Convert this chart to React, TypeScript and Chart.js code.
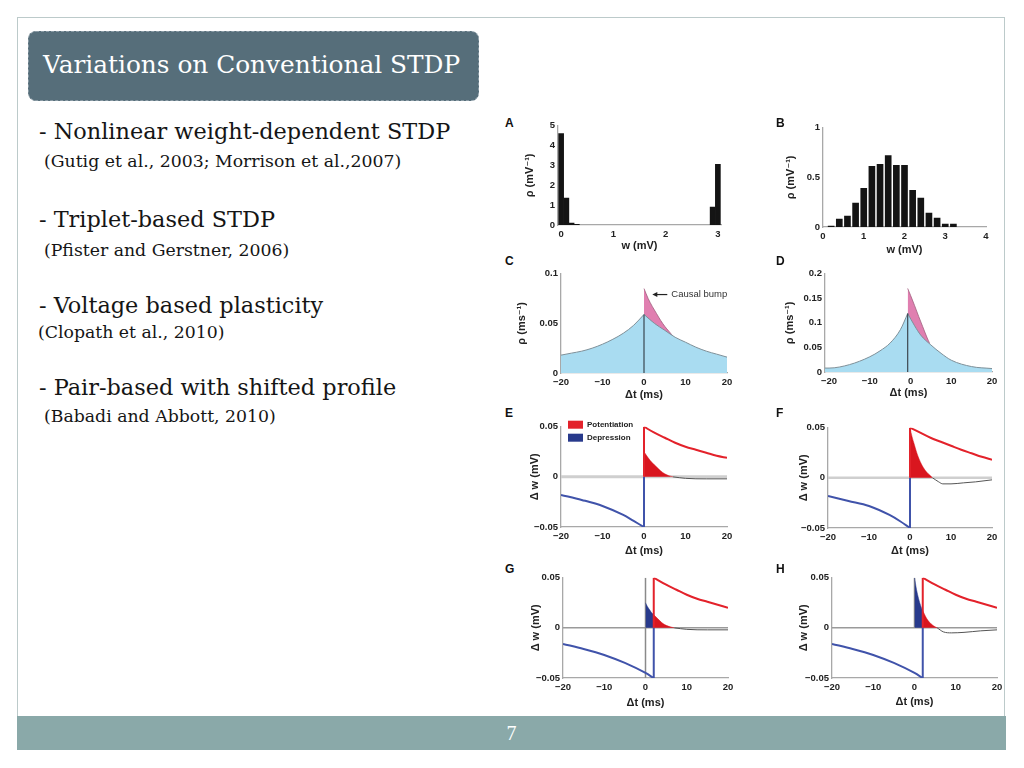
import React, { useEffect, useRef } from "react";
import { Chart, registerables } from "chart.js";
Chart.register(...registerables);

// ---------------- data ----------------
// A: bimodal weight distribution
const A_W = [0, 0.1, 0.2, 0.3, 2.9, 3.0];
const A_RHO = [4.6, 1.35, 0.1, 0.03, 0.9, 3.05];
const A_XTICKS = [0, 1, 2, 3];
const A_YTICKS = [0, 1, 2, 3, 4, 5];

// B: unimodal weight distribution
const B_W = [0.2, 0.4, 0.6, 0.8, 1.0, 1.2, 1.4, 1.6, 1.8, 2.0, 2.2, 2.4, 2.6, 2.8, 3.0, 3.2];
const B_RHO = [0.01, 0.08, 0.11, 0.24, 0.39, 0.61, 0.63, 0.72, 0.62, 0.62, 0.37, 0.29, 0.14, 0.09, 0.03, 0.03];
const B_XTICKS = [0, 1, 2, 3, 4];
const B_YTICKS = [0, 0.5, 1];

const DT_TICKS = [-20, -10, 0, 10, 20];
const C_YTICKS = [0, 0.05, 0.1];
const D_YTICKS = [0, 0.05, 0.1, 0.15, 0.2];
const DW_YTICKS = [-0.05, 0, 0.05];

// C: spike-pair density with causal bump
const C_T_PRE = [-20, -17.5, -15, -12.5, -10, -7.5, -5, -2.5, 0];
const C_RHO_PRE = [0.018, 0.02, 0.022, 0.025, 0.029, 0.034, 0.04, 0.048, 0.059];
const C_T_POST = [0, 2.5, 5, 7.5, 10, 12.5, 15, 17.5, 20];
const C_RHO_POST = [0.059, 0.05, 0.043, 0.036, 0.031, 0.026, 0.022, 0.019, 0.016];
const C_BUMP_T = [0, 1, 2, 3, 4, 5, 6, 7];
const C_BUMP_RHO = [0.085, 0.075, 0.067, 0.06, 0.053, 0.047, 0.042, 0.037];
const C_PEAK_T = [0, 0];
const C_PEAK_RHO = [0, 0.059];
const C_NOTE = "Causal bump";
const C_NOTE_AT = { t: 2, rho: 0.079 };

// D
const D_T_PRE = [-21, -20, -15, -10, -7.5, -5, -2.5, -0.7];
const D_RHO_PRE = [0.008, 0.008, 0.015, 0.031, 0.043, 0.059, 0.086, 0.119];
const D_T_POST = [-0.7, 1, 2.5, 5, 7.5, 10, 15, 20];
const D_RHO_POST = [0.119, 0.094, 0.075, 0.055, 0.038, 0.024, 0.011, 0.007];
const D_BUMP_T = [-0.7, 0, 1, 2, 3, 4, 4.7];
const D_BUMP_RHO = [0.17, 0.156, 0.135, 0.113, 0.092, 0.071, 0.058];
const D_PEAK_T = [-0.7, -0.7];
const D_PEAK_RHO = [0, 0.119];

// E
const E_POT_T = [0, 0, 2.5, 5, 7.5, 10, 12.5, 15, 17.5, 20];
const E_POT_W = [0, 0.05, 0.044, 0.039, 0.034, 0.03, 0.027, 0.024, 0.021, 0.019];
const E_DEP_T = [-20, -15, -10, -5, -2.5, 0, 0];
const E_DEP_W = [-0.018, -0.023, -0.029, -0.038, -0.044, -0.05, 0];
const E_NET_T = [0, 1, 2, 3, 4, 5, 6, 7];
const E_NET_W = [0.025, 0.019, 0.014, 0.01, 0.006, 0.003, 0.0012, 0];
const E_TAIL_T = [7, 10, 15, 20];
const E_TAIL_W = [0, -0.0015, -0.002, -0.002];
const LEGEND_LABELS = ["Potentiation", "Depression"];

// F
const F_POT_T = [0, 0, 2.5, 5, 7.5, 10, 12.5, 15, 17.5, 20];
const F_POT_W = [0, 0.05, 0.045, 0.04, 0.036, 0.032, 0.028, 0.0245, 0.021, 0.018];
const F_DEP_T = [-20, -15, -10, -5, -2.5, 0, 0];
const F_DEP_W = [-0.018, -0.023, -0.028, -0.037, -0.043, -0.05, 0];
const F_NET_T = [0, 0.5, 1, 1.5, 2, 3, 4, 5, 5.5];
const F_NET_W = [0.05, 0.041, 0.034, 0.027, 0.021, 0.012, 0.006, 0.002, 0];
const F_TAIL_T = [5.5, 7, 8, 10, 13, 16, 20];
const F_TAIL_W = [0, -0.004, -0.006, -0.006, -0.005, -0.004, -0.002];

// G
const G_POT_T = [2, 2, 5, 7.5, 10, 12.5, 15, 17.5, 20];
const G_POT_W = [0, 0.05, 0.043, 0.038, 0.033, 0.029, 0.026, 0.023, 0.02];
const G_DEP_T = [-20, -15, -10, -5, 0, 2, 2];
const G_DEP_W = [-0.016, -0.021, -0.027, -0.035, -0.045, -0.05, 0];
const G_LTD_T = [0, 0.5, 1, 1.5, 2];
const G_LTD_W = [0.025, 0.021, 0.018, 0.015, 0.013];
const G_NET_T = [2, 3, 4, 5, 6, 7];
const G_NET_W = [0.013, 0.009, 0.005, 0.0025, 0.001, 0];
const G_TAIL_T = [7, 10, 15, 20];
const G_TAIL_W = [0, -0.0015, -0.002, -0.002];
const G_ZERO_T = [0, 0];
const G_ZERO_W = [-0.05, 0.05];

// H
const H_POT_T = [2, 2, 5, 7.5, 10, 12.5, 15, 17.5, 20];
const H_POT_W = [0, 0.05, 0.043, 0.038, 0.033, 0.029, 0.026, 0.023, 0.02];
const H_DEP_T = [-20, -15, -10, -5, 0, 2, 2];
const H_DEP_W = [-0.016, -0.021, -0.027, -0.035, -0.045, -0.05, 0];
const H_LTD_T = [0, 0.5, 1, 1.5, 2];
const H_LTD_W = [0.05, 0.038, 0.029, 0.022, 0.017];
const H_NET_T = [2, 3, 4, 5, 5.5];
const H_NET_W = [0.017, 0.009, 0.004, 0.001, 0];
const H_TAIL_T = [5.5, 7, 9, 12, 16, 20];
const H_TAIL_W = [0, -0.004, -0.005, -0.0045, -0.003, -0.002];
const H_ZERO_T = [0, 0];
const H_ZERO_W = [0, 0.05];

const BASE_T = [-20, 20];
const BASE_W = [0, 0];

// ---------------- styles ----------------
const SANS = "'Liberation Sans', Arial, 'DejaVu Sans', sans-serif";
const SERIF = "'DejaVu Serif', Georgia, serif";
const AXIS = "#a8a8a8";
const INK = "#222";
const RED = "#e3222b";
const RED_FILL = "#d9161f";
const BLUE_LINE = "#4053aa";
const BLUE_FILL = "#283a8c";
const SKY = "#a9dcf1";
const PINK = "#e07fb0";

type Pt = { x: number; y: number };
const zip = (xs: number[], ys: number[]): Pt[] => xs.map((x, i) => ({ x, y: ys[i] }));

function fmt(v: number): string {
  const s = String(+Number(v).toFixed(3));
  return v < 0 ? "\u2212" + s.replace("-", "") : s;
}

const line = (xs: number[], ys: number[], color: string, width: number, extra: any = {}) => ({
  data: zip(xs, ys),
  borderColor: color,
  borderWidth: width,
  fill: false,
  pointRadius: 0,
  tension: 0,
  ...extra,
});
const curve = (xs: number[], ys: number[], color: string, width: number, extra: any = {}) =>
  line(xs, ys, color, width, { cubicInterpolationMode: "monotone", ...extra });
const area = (xs: number[], ys: number[], fillColor: string, edge: string, width: number) =>
  curve(xs, ys, edge, width, { fill: "origin", backgroundColor: fillColor });

// a trace with a vertical jump at its start: jump segment + smooth decay
const jumpStart = (xs: number[], ys: number[], color: string, width: number) => [
  line(xs.slice(0, 2), ys.slice(0, 2), color, width),
  curve(xs.slice(1), ys.slice(1), color, width),
];
// a trace with a vertical jump at its end: smooth run + jump segment
const jumpEnd = (xs: number[], ys: number[], color: string, width: number) => [
  line(xs.slice(-2), ys.slice(-2), color, width),
  curve(xs.slice(0, -1), ys.slice(0, -1), color, width),
];

const causalBumpPlugin = {
  id: "causalBump",
  afterDatasetsDraw(chart: any) {
    const { ctx, scales } = chart;
    const x0 = scales.x.getPixelForValue(C_NOTE_AT.t);
    const y0 = scales.y.getPixelForValue(C_NOTE_AT.rho);
    ctx.save();
    ctx.strokeStyle = "#222";
    ctx.fillStyle = "#222";
    ctx.lineWidth = 1.2;
    ctx.beginPath();
    ctx.moveTo(x0 + 4, y0);
    ctx.lineTo(x0 + 15, y0);
    ctx.stroke();
    ctx.beginPath();
    ctx.moveTo(x0, y0);
    ctx.lineTo(x0 + 5, y0 - 2.5);
    ctx.lineTo(x0 + 5, y0 + 2.5);
    ctx.closePath();
    ctx.fill();
    ctx.font = `9.5px ${SANS}`;
    ctx.fillStyle = "#333";
    ctx.textBaseline = "middle";
    ctx.fillText(C_NOTE, x0 + 19, y0);
    ctx.restore();
  },
};

const legendPlugin = {
  id: "stdpLegend",
  afterDatasetsDraw(chart: any) {
    const { ctx, chartArea } = chart;
    const colors = [RED, BLUE_FILL];
    ctx.save();
    ctx.font = `bold 8px ${SANS}`;
    ctx.textBaseline = "middle";
    LEGEND_LABELS.forEach((label, i) => {
      const x = chartArea.left + 7;
      const y = chartArea.top - 6 + i * 13;
      ctx.fillStyle = colors[i];
      ctx.fillRect(x, y, 15, 8);
      ctx.fillStyle = INK;
      ctx.fillText(label, x + 19, y + 4);
    });
    ctx.restore();
  },
};

interface PanelSpec {
  letter: string;
  letterAt: [number, number];
  rect: { L: number; R: number; T: number; B: number };
  yW: number;
  xH: number;
  type: "bar" | "line";
  xMin: number;
  xMax: number;
  yMin: number;
  yMax: number;
  xTicks: number[];
  yTicks: number[];
  xTitle: string;
  yTitle: string;
  datasets: any[];
  plugins?: any[];
}

const DT = "\u0394t (ms)";
const DWT = "\u0394 w (mV)";

const PANELS: PanelSpec[] = [
  {
    letter: "A", letterAt: [505, 117], rect: { L: 558, R: 721, T: 125, B: 225 }, yW: 35, xH: 28,
    type: "bar", xMin: -0.06, xMax: 3.06, yMin: 0, yMax: 5, xTicks: A_XTICKS, yTicks: A_YTICKS,
    xTitle: "w (mV)", yTitle: "\u03c1 (mV\u207b\u00b9)",
    datasets: [{ data: zip(A_W, A_RHO), backgroundColor: "#141414", barThickness: 5 }],
  },
  {
    letter: "B", letterAt: [776, 117], rect: { L: 823, R: 986, T: 127, B: 227 }, yW: 39, xH: 30,
    type: "bar", xMin: 0, xMax: 4, yMin: 0, yMax: 1, xTicks: B_XTICKS, yTicks: B_YTICKS,
    xTitle: "w (mV)", yTitle: "\u03c1 (mV\u207b\u00b9)",
    datasets: [{ data: zip(B_W, B_RHO), backgroundColor: "#141414", barThickness: 6 }],
  },
  {
    letter: "C", letterAt: [505, 255], rect: { L: 561, R: 727, T: 273, B: 373 }, yW: 46, xH: 29,
    type: "line", xMin: -20, xMax: 20, yMin: 0, yMax: 0.1, xTicks: DT_TICKS, yTicks: C_YTICKS,
    xTitle: DT, yTitle: "\u03c1 (ms\u207b\u00b9)",
    datasets: [
      line(C_PEAK_T, C_PEAK_RHO, "#3a4650", 1.2),
      area(C_T_PRE, C_RHO_PRE, SKY, "#7f9099", 1),
      area(C_T_POST, C_RHO_POST, SKY, "#7f9099", 1),
      area(C_BUMP_T, C_BUMP_RHO, PINK, "#a0607e", 0.8),
    ],
    plugins: [causalBumpPlugin],
  },
  {
    letter: "D", letterAt: [776, 255], rect: { L: 825, R: 992, T: 273, B: 372 }, yW: 42, xH: 28,
    type: "line", xMin: -21, xMax: 20, yMin: 0, yMax: 0.2, xTicks: DT_TICKS, yTicks: D_YTICKS,
    xTitle: DT, yTitle: "\u03c1 (ms\u207b\u00b9)",
    datasets: [
      line(D_PEAK_T, D_PEAK_RHO, "#3a4650", 1.2),
      area(D_T_PRE, D_RHO_PRE, SKY, "#7f9099", 1),
      area(D_T_POST, D_RHO_POST, SKY, "#7f9099", 1),
      area(D_BUMP_T, D_BUMP_RHO, PINK, "#a0607e", 0.8),
    ],
  },
  {
    letter: "E", letterAt: [505, 407], rect: { L: 561, R: 727, T: 426, B: 527 }, yW: 33, xH: 31,
    type: "line", xMin: -20, xMax: 20, yMin: -0.05, yMax: 0.05, xTicks: DT_TICKS, yTicks: DW_YTICKS,
    xTitle: DT, yTitle: DWT,
    datasets: [
      ...jumpStart(E_POT_T, E_POT_W, RED, 2),
      ...jumpEnd(E_DEP_T, E_DEP_W, BLUE_LINE, 2),
      curve(E_TAIL_T, E_TAIL_W, "#555", 1),
      area(E_NET_T, E_NET_W, RED_FILL, RED_FILL, 0.5),
      line(BASE_T, BASE_W, "#cfcfcf", 3),
    ],
    plugins: [legendPlugin],
  },
  {
    letter: "F", letterAt: [776, 407], rect: { L: 828, R: 992, T: 427, B: 528 }, yW: 31, xH: 30,
    type: "line", xMin: -20, xMax: 20, yMin: -0.05, yMax: 0.05, xTicks: DT_TICKS, yTicks: DW_YTICKS,
    xTitle: DT, yTitle: DWT,
    datasets: [
      ...jumpStart(F_POT_T, F_POT_W, RED, 2),
      ...jumpEnd(F_DEP_T, F_DEP_W, BLUE_LINE, 2),
      curve(F_TAIL_T, F_TAIL_W, "#555", 1),
      area(F_NET_T, F_NET_W, RED_FILL, RED_FILL, 0.5),
      line(BASE_T, BASE_W, "#cfcfcf", 2.5),
    ],
  },
  {
    letter: "G", letterAt: [505, 563], rect: { L: 563, R: 728, T: 577, B: 678 }, yW: 34, xH: 32,
    type: "line", xMin: -20, xMax: 20, yMin: -0.05, yMax: 0.05, xTicks: DT_TICKS, yTicks: DW_YTICKS,
    xTitle: DT, yTitle: DWT,
    datasets: [
      ...jumpStart(G_POT_T, G_POT_W, RED, 2),
      ...jumpEnd(G_DEP_T, G_DEP_W, BLUE_LINE, 2),
      curve(G_TAIL_T, G_TAIL_W, "#555", 1),
      area(G_NET_T, G_NET_W, RED_FILL, RED_FILL, 0.5),
      area(G_LTD_T, G_LTD_W, BLUE_FILL, BLUE_FILL, 0.5),
      line(G_ZERO_T, G_ZERO_W, "#8a8a8a", 1.5),
      line(BASE_T, BASE_W, "#9a9a9a", 1.5),
    ],
  },
  {
    letter: "H", letterAt: [776, 563], rect: { L: 832, R: 997, T: 577, B: 678 }, yW: 35, xH: 31,
    type: "line", xMin: -20, xMax: 20, yMin: -0.05, yMax: 0.05, xTicks: DT_TICKS, yTicks: DW_YTICKS,
    xTitle: DT, yTitle: DWT,
    datasets: [
      ...jumpStart(H_POT_T, H_POT_W, RED, 2),
      ...jumpEnd(H_DEP_T, H_DEP_W, BLUE_LINE, 2),
      curve(H_TAIL_T, H_TAIL_W, "#555", 1),
      area(H_NET_T, H_NET_W, RED_FILL, RED_FILL, 0.5),
      area(H_LTD_T, H_LTD_W, BLUE_FILL, BLUE_FILL, 0.5),
      line(H_ZERO_T, H_ZERO_W, "#8a8a8a", 1.5),
      line(BASE_T, BASE_W, "#9a9a9a", 1.5),
    ],
  },
];

const PAD_TOP = 8;
const PAD_RIGHT = 10;

function Panel({ spec }: { spec: PanelSpec }) {
  const ref = useRef<HTMLCanvasElement>(null);
  const { L, R, T, B } = spec.rect;
  const w = spec.yW + (R - L) + PAD_RIGHT;
  const h = PAD_TOP + (B - T) + spec.xH;
  useEffect(() => {
    const tickFont = { family: SANS, size: 9.5, weight: "bold" as const };
    const titleFont = { family: SANS, size: 11, weight: "bold" as const };
    const chart = new Chart(ref.current!, {
      type: spec.type,
      data: { datasets: spec.datasets },
      options: {
        animation: false,
        responsive: false,
        maintainAspectRatio: false,
        layout: { padding: { top: PAD_TOP, right: PAD_RIGHT, left: 0, bottom: 0 } },
        plugins: { legend: { display: false }, tooltip: { enabled: false } },
        scales: {
          x: {
            type: "linear",
            min: spec.xMin,
            max: spec.xMax,
            bounds: "data",
            offset: false,
            grid: { display: false, drawTicks: false },
            border: { display: true, color: AXIS, width: 1.3 },
            ticks: {
              font: tickFont, color: INK, padding: 4, maxRotation: 0, autoSkip: false,
              callback: (v: any) => fmt(Number(v)),
            },
            afterBuildTicks: (s: any) => { s.ticks = spec.xTicks.map((v) => ({ value: v })); },
            afterFit: (s: any) => { s.height = spec.xH; },
            title: { display: true, text: spec.xTitle, font: titleFont, color: INK, padding: 0 },
          },
          y: {
            type: "linear",
            min: spec.yMin,
            max: spec.yMax,
            bounds: "data",
            grid: { display: false, drawTicks: false },
            border: { display: true, color: AXIS, width: 1.3 },
            ticks: {
              font: tickFont, color: INK, padding: 3, autoSkip: false,
              callback: (v: any) => fmt(Number(v)),
            },
            afterBuildTicks: (s: any) => { s.ticks = spec.yTicks.map((v) => ({ value: v })); },
            afterFit: (s: any) => { s.width = spec.yW; },
            title: { display: true, text: spec.yTitle, font: titleFont, color: INK, padding: 0 },
          },
        },
      } as any,
      plugins: spec.plugins || [],
    });
    return () => chart.destroy();
  }, []);
  return (
    <>
      <canvas
        ref={ref}
        width={w}
        height={h}
        style={{ position: "absolute", left: L - spec.yW, top: T - PAD_TOP, width: w, height: h }}
      />
      <div
        style={{
          position: "absolute", left: spec.letterAt[0], top: spec.letterAt[1],
          font: `bold 12px ${SANS}`, lineHeight: "12px", color: "#111",
        }}
      >
        {spec.letter}
      </div>
    </>
  );
}

const BULLETS: { text: string; size: number; left: number; top: number }[] = [
  { text: "- Nonlinear weight-dependent STDP", size: 22.4, left: 39, top: 120 },
  { text: "(Gutig et al., 2003; Morrison et al.,2007)", size: 17.3, left: 44, top: 152.5 },
  { text: "- Triplet-based STDP", size: 22.4, left: 39, top: 208 },
  { text: "(Pfister and Gerstner, 2006)", size: 17.3, left: 44, top: 241.5 },
  { text: "- Voltage based plasticity", size: 22.4, left: 39, top: 294 },
  { text: "(Clopath et al., 2010)", size: 17.3, left: 38, top: 323.5 },
  { text: "- Pair-based with shifted profile", size: 22.4, left: 39, top: 376 },
  { text: "(Babadi and Abbott, 2010)", size: 17.3, left: 44, top: 407.5 },
];

export default function App() {
  return (
    <div style={{ position: "absolute", left: 0, top: 0, width: 1024, height: 768, background: "#fff", overflow: "hidden" }}>
      <div style={{ position: "absolute", left: 17, top: 17, width: 988, height: 732, border: "1px solid #bccaca", boxSizing: "border-box" }} />
      <div
        style={{
          position: "absolute", left: 28, top: 31, width: 451, height: 70, background: "#566e7a",
          borderRadius: 8, border: "1px dashed #8b9ca6", boxSizing: "border-box",
        }}
      />
      <div style={{ position: "absolute", left: 43, top: 53, font: `24.8px ${SERIF}`, lineHeight: "24.8px", color: "#fff", whiteSpace: "nowrap" }}>
        Variations on Conventional STDP
      </div>
      {BULLETS.map((b, i) => (
        <div
          key={i}
          style={{
            position: "absolute", left: b.left, top: b.top, font: `${b.size}px ${SERIF}`,
            lineHeight: `${b.size}px`, color: "#151515", whiteSpace: "nowrap",
          }}
        >
          {b.text}
        </div>
      ))}
      {PANELS.map((p) => (
        <Panel key={p.letter} spec={p} />
      ))}
      <div style={{ position: "absolute", left: 17, top: 716, width: 989, height: 34, background: "#8aa9a9" }} />
      <div style={{ position: "absolute", left: 17, top: 722, width: 989, height: 34, lineHeight: "34px", textAlign: "center", color: "#fff", font: `20px 'Liberation Serif', serif` }}>
        7
      </div>
    </div>
  );
}
